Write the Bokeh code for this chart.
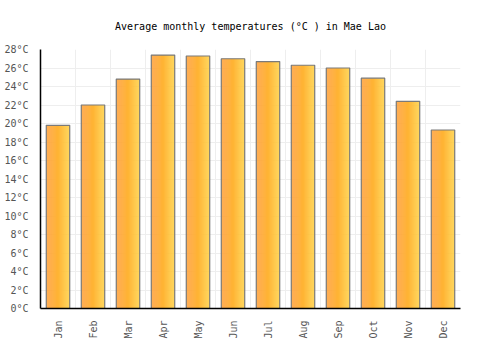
import math
from bokeh.plotting import figure
from bokeh.models import FixedTicker, Range1d
from bokeh.embed import file_html
from bokeh.resources import INLINE

months = ["Jan", "Feb", "Mar", "Apr", "May", "Jun", "Jul", "Aug", "Sep", "Oct", "Nov", "Dec"]
temps = [19.8, 22.0, 24.8, 27.4, 27.3, 27.0, 26.7, 26.3, 26.0, 24.9, 22.4, 19.3]
y_ticks = list(range(0, 29, 2))
y_labels = {t: f"{t}°C" for t in y_ticks}

FONT = "DejaVu Sans Mono"
BAR_W = 0.67
N = 24
c0 = (255, 156, 48)
c1 = (255, 204, 58)

p = figure(width=500, height=350, output_backend="svg", toolbar_location=None,
           x_range=Range1d(0, 12), y_range=Range1d(0, 28),
           min_border_left=40, min_border_right=40, min_border_bottom=42, min_border_top=49)
p.title.text = "Average monthly temperatures (°C ) in Mae Lao"
p.title.align = "center"
p.title.text_font = FONT
p.title.text_font_size = "10px"
p.title.text_font_style = "normal"
p.title.text_color = "#000000"
p.title.standoff = 35
p.outline_line_color = None

xs = [i + 0.5 for i in range(len(months))]
sw = BAR_W / N
for k in range(N):
    t = k / (N - 1)
    col = "#%02x%02x%02x" % tuple(int(round(a + (b - a) * t)) for a, b in zip(c0, c1))
    off = -BAR_W / 2 + sw * (k + 0.5)
    p.vbar(x=[x + off for x in xs], top=temps, bottom=0, width=sw * 1.05,
           fill_color=col, line_color=None)
p.vbar(x=xs, top=temps, bottom=0, width=BAR_W, fill_color=None,
       line_color="#7a7a7a", line_width=1.2)

p.xaxis.ticker = FixedTicker(ticks=xs)
p.xaxis.major_label_overrides = {x: m for x, m in zip(xs, months)}
p.xaxis.major_label_orientation = math.pi / 2
p.yaxis.ticker = FixedTicker(ticks=y_ticks)
p.yaxis.major_label_overrides = y_labels
p.xgrid.ticker = FixedTicker(ticks=list(range(13)))
for ax in (p.xaxis[0], p.yaxis[0]):
    ax.major_label_text_font = FONT
    ax.major_label_text_font_size = "10px"
    ax.major_label_text_color = "#555555"
    ax.major_tick_line_color = None
    ax.minor_tick_line_color = None
    ax.axis_line_color = "#000000"
    ax.axis_line_width = 1.5
    ax.major_label_standoff = 6
p.xgrid.grid_line_color = "#eeeeee"
p.ygrid.grid_line_color = "#eeeeee"

open("out.html", "w").write(file_html(p, INLINE))
